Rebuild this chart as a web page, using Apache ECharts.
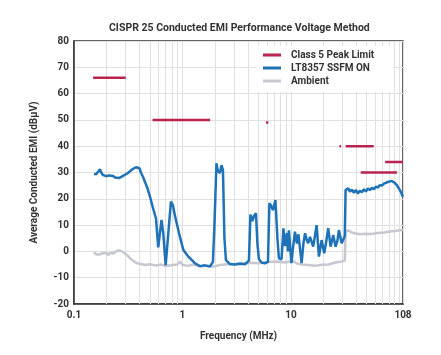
<!DOCTYPE html>
<html><head><meta charset="utf-8">
<script src="https://cdn.jsdelivr.net/npm/echarts@6/dist/echarts.min.js"></script>
<style>html,body{margin:0;padding:0;background:#fff}#c{width:441px;height:355px}</style>
</head><body><div id="c"></div>
<script>
const titleText = 'CISPR 25 Conducted EMI Performance Voltage Method';
const xAxisName = 'Frequency (MHz)';
const yAxisName = 'Average Conducted EMI (dBµV)';
const xTickLabels = ['0.1', '1', '10', '108'];
const xMin = 0.1, xMax = 108;
const yMin = -20, yMax = 80, yStep = 10;
const minorGridFreqs = [0.2,0.3,0.4,0.5,0.6,0.7,0.8,0.9,2,3,4,5,6,7,8,9,20,30,40,50,60,70,80,90];

const seriesNames = ['Class 5 Peak Limit', 'LT8357 SSFM ON', 'Ambient'];

// Class 5 peak limit bands (MHz) and levels (dBµV)
const limitStart = [0.15, 0.53, 5.9, 28.0, 32.0, 44.0, 74.0];
const limitEnd   = [0.30, 1.80, 6.2, 29.0, 58.0, 95.0, 108.0];
const limitLevel = [66, 50, 49, 40, 40, 30, 34];

// LT8357 SSFM ON
const ssfmFreq = [0.153,0.160,0.166,0.174,0.177,0.185,0.193,0.201,0.210,0.219,0.229,0.239,0.249,0.260,0.271,0.283,0.295,0.315,0.335,0.357,0.373,0.389,0.401,0.414,0.432,0.471,0.502,0.535,0.570,0.598,0.641,0.665,0.700,0.783,0.817,0.853,0.948,1.02,1.134,1.303,1.449,1.611,1.792,1.910,1.972,2.058,2.124,2.217,2.288,2.362,2.438,2.517,2.74,3.05,3.39,3.77,4.10,4.235,4.418,4.56,4.76,4.911,5.07,5.404,5.76,6.14,6.337,6.543,6.827,7.197,7.509,7.75,8.2,8.528,8.81,9.186,9.385,9.585,10.11,10.43,10.9,11.36,11.73,12.55,13.04,13.5,13.96,14.43,15.0,15.29,16.05,17.26,18.12,19.18,20.27,21.02,22.08,23.23,24.55,25.82,26.83,27.70,29.34,30.80,31.4,31.93,32.48,33.74,35.0,36.5,38.08,39.73,41.45,43.2,45.12,47.08,49.12,51.25,53.5,55.79,58.21,60.73,63.37,66.1,68.99,71.98,75.1,78.34,81.7,85.28,88.03,90.9,94.84,97.9,101,104.3,107.7];
const ssfmLevel = [29.5,29.3,29.7,31.2,30.2,29.0,29.3,28.6,28.9,28.3,28.7,28.1,28.5,27.9,28.4,28.7,28.9,29.8,30.8,31.6,32.0,32.3,31.6,30.0,28.4,24.5,20.8,16.5,12.5,1.5,12.0,7.0,-5.2,18.9,17.5,13.5,5.5,0.5,-2.0,-4.5,-5.6,-5.3,-5.8,-4.0,10.0,33.5,30.5,29.8,32.8,31.0,5.0,-3.3,-4.8,-5.0,-4.6,-4.9,-3.5,14.0,11.5,13.5,14.5,3.0,-3.0,-4.3,-4.5,-4.0,18.3,17.5,15.7,19.5,5.0,-2.6,-3.0,8.8,2.0,7.0,0.0,8.0,-4.5,1.0,7.5,3.0,6.5,-4.5,3.0,6.9,4.5,3.1,5.5,5.6,1.8,10.0,-2.0,4.3,-0.7,3.0,8.8,1.8,6.2,1.8,4.0,8.1,3.1,5.0,6.0,23.3,23.0,24.0,22.7,23.5,22.3,23.4,22.0,23.1,22.5,23.6,22.8,23.9,23.3,24.2,23.6,24.6,24.3,25.2,25.0,25.8,25.6,26.4,26.2,26.8,26.3,26.0,25.2,24.5,23.3,22.2,20.8];

// Ambient
const ambFreq = [0.153,0.160,0.166,0.170,0.177,0.185,0.193,0.201,0.206,0.219,0.229,0.239,0.249,0.260,0.266,0.277,0.283,0.295,0.315,0.328,0.335,0.357,0.381,0.414,0.451,0.502,0.570,0.641,0.690,0.783,0.890,0.948,1.011,1.124,1.250,1.449,1.718,1.910,2.217,2.74,3.39,4.10,5.07,6.14,7.51,8.81,10.43,11.36,12.55,14.43,16.6,19.18,22.08,25.82,29.34,31.4,31.93,33.74,36.5,39.73,43.2,49.12,55.79,63.37,71.98,81.7,90.9,101,107.7];
const ambLevel = [-0.2,-1.2,-1.8,-1.2,-1.9,-0.7,-1.0,-0.6,-1.4,-0.4,-0.9,-0.2,0.2,0.5,0.9,0.0,-0.4,-0.8,-1.8,-2.6,-3.0,-3.8,-4.5,-4.8,-5.2,-4.9,-5.4,-5.0,-5.5,-5.3,-5.0,-3.9,-5.2,-5.5,-5.0,-5.7,-5.4,-5.8,-5.2,-4.8,-5.0,-4.3,-4.5,-4.0,-3.8,-4.2,-3.6,-4.6,-5.0,-5.2,-5.5,-5.1,-5.0,-4.2,-3.8,-3.5,7.5,8.0,7.2,6.8,6.5,6.7,6.6,7.0,7.2,7.6,7.8,8.0,8.1];

const colors = { limit: '#b8234f', ssfm: '#1d72b8', amb: '#c6c7d1', grid: '#e0e0e0', axis: '#333333', text: '#333333' };
const FONT = 'Roboto, "Liberation Sans", sans-serif';

const zip = (a, b) => a.map((v, i) => [v, b[i]]);

const series = [];
series.push({
  name: seriesNames[2], type: 'line', data: zip(ambFreq, ambLevel), showSymbol: false,
  lineStyle: { color: colors.amb, width: 2.5 }, itemStyle: { color: colors.amb }, z: 2,
  markLine: { silent: true, symbol: 'none', label: { show: false },
    lineStyle: { color: colors.grid, width: 1, type: 'solid' },
    data: minorGridFreqs.map(f => ({ xAxis: f })) , z: 1, animation: false }
});
series.push({
  name: seriesNames[1], type: 'line', data: zip(ssfmFreq, ssfmLevel), showSymbol: false,
  lineStyle: { color: colors.ssfm, width: 2.5 }, itemStyle: { color: colors.ssfm }, z: 3
});
limitStart.forEach((s, i) => {
  series.push({
    name: seriesNames[0], type: 'line', showSymbol: false,
    data: [[s, limitLevel[i]], [limitEnd[i], limitLevel[i]]],
    lineStyle: { color: colors.limit, width: 2.5 }, itemStyle: { color: colors.limit }, z: 4
  });
});

const chart = echarts.init(document.getElementById('c'), null, { renderer: 'canvas' });
chart.setOption({
  animation: false,
  backgroundColor: '#fff',
  title: { text: titleText, left: 109, top: 23, padding: 0,
    textStyle: { fontFamily: FONT, fontSize: 10.5, fontWeight: 'bold', color: colors.text } },
  legend: {
    data: seriesNames, orient: 'vertical', left: 257, top: 46,
    padding: [3, 19, 5, 6], backgroundColor: '#fff',
    itemWidth: 18, itemHeight: 3, itemGap: 1, icon: 'rect',
    textStyle: { fontFamily: FONT, fontSize: 10, fontWeight: 'bold', color: colors.text, lineHeight: 12, padding: [0, 0, 0, 5] }
  },
  grid: { left: 74, right: 38, top: 41, bottom: 51, containLabel: false, outerBoundsMode: 'none',
    show: true, borderColor: colors.axis, borderWidth: 1.5, backgroundColor: 'transparent' },
  xAxis: {
    type: 'log', logBase: 10, min: xMin, max: xMax,
    name: xAxisName, nameLocation: 'middle', nameGap: 27,
    nameTextStyle: { fontFamily: FONT, fontSize: 10, fontWeight: 'bold', color: colors.text },
    axisLine: { show: true, onZero: false, lineStyle: { color: colors.axis, width: 1.5 } },
    axisTick: { show: false },
    splitLine: { show: true, lineStyle: { color: colors.grid, width: 1 } },
    axisLabel: { margin: 6, fontFamily: FONT, fontSize: 10, fontWeight: 'bold', color: colors.text,
      showMinLabel: true, showMaxLabel: true,
      formatter: v => { const r = +(+v).toPrecision(4); if (Math.abs(r - 100) < 1e-6) return ''; const s = String(r); return xTickLabels.includes(s) ? s : ''; } }
  },
  yAxis: {
    type: 'value', min: yMin, max: yMax, interval: yStep,
    name: yAxisName, nameLocation: 'middle', nameGap: 35,
    nameTextStyle: { fontFamily: FONT, fontSize: 10, fontWeight: 'bold', color: colors.text },
    axisLine: { show: true, onZero: false, lineStyle: { color: colors.axis, width: 1.5 } },
    axisTick: { show: false },
    splitLine: { show: true, lineStyle: { color: colors.grid, width: 1 } },
    axisLabel: { margin: 5, fontFamily: FONT, fontSize: 10, fontWeight: 'bold', color: colors.text }
  },
  series: series
});
</script></body></html>
